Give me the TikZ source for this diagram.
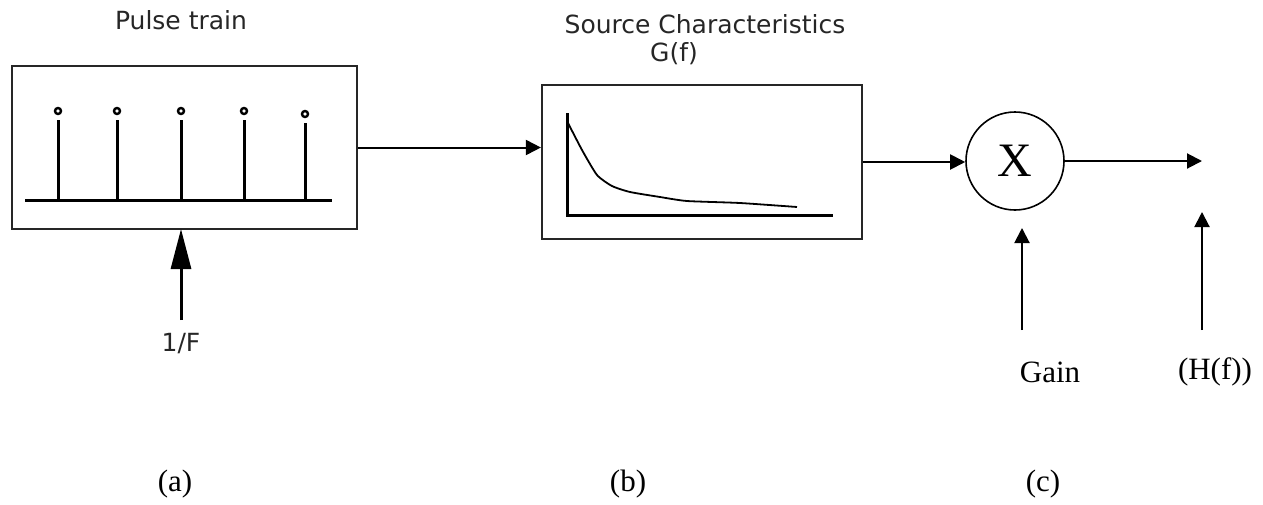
\documentclass[tikz,border=0pt]{standalone}
\usepackage{fontspec}
\setmainfont{Liberation Serif}
\newfontfamily\sansf{DejaVu Sans}
\usetikzlibrary{arrows.meta}
\tikzset{
  blk/.style={draw=black!85, line width=2.2pt, inner sep=0pt},
  conn/.style={line width=2pt, -{Triangle[length=15pt,width=15pt]}},
  bigconn/.style={line width=3pt, -{Triangle[length=40pt,width=20pt]}},
  sanslbl/.style={font=\sansf\fontsize{25}{30}\selectfont, text=black!85, inner sep=0pt},
  serlbl/.style={font=\fontsize{31}{36}\selectfont, inner sep=0pt},
  axis/.style={line width=3pt},
  stem/.style={line width=3pt},
  tipc/.style={draw, line width=2.4pt, fill=white},
}
\begin{document}
\begin{tikzpicture}[x=1pt,y=-1pt]
\useasboundingbox (0,0) rectangle (1263,504);
% blocks
\node[blk, minimum width=345pt, minimum height=163pt] (pulse) at (184.5,147.5) {};
\node[blk, minimum width=320pt, minimum height=154pt] (src) at (702,162) {};
\node[draw, line width=1.6pt, circle, minimum size=98pt, inner sep=0pt,
      font=\fontsize{48}{52}\selectfont] (mult) at (1015,161) {X};
% labels
\node[sanslbl] (ptl) at (181,20) {Pulse train};
\node[sanslbl] (scl) at (705,24) {Source Characteristics};
\node[sanslbl] (gfl) at (674,54) {G(f)};
\node[sanslbl] (fl) at (181,344) {1/F};
\node[serlbl] (gain) at (1050,372) {Gain};
\node[serlbl] (hfl) at (1215,372) {(H(f))};
\node[serlbl] (la) at (175,484) {(a)};
\node[serlbl] (lb) at (628,484) {(b)};
\node[serlbl] (lc) at (1043,484) {(c)};
% pulse train inside block 1
\draw[stem] (25,200) -- (332,200);
\foreach \x/\t/\c in {58/120/111,117/120/111,181/120/111,244/120/111,305/123/114}{
  \draw[stem] (\x,200) -- (\x,\t);
  \draw[tipc] (\x,\c) circle (3pt);
}
% characteristic curve inside block 2
\draw[axis] (567,113) -- (567,215) -- (833,215);
\draw[line width=1.8pt, line join=round] plot[smooth, tension=0.35] coordinates
  {(567,121) (582,150) (597,175) (612,186) (630,192) (660,197) (687,201) (740,203) (797,207)};
% connectors
\coordinate (fbot) at (181,320);
\coordinate (ftip) at (181,229);
\coordinate (outtip) at (1202,161);
\coordinate (gbot) at (1022,330);
\coordinate (gtip) at (1022,228);
\coordinate (hbot) at (1202,330);
\coordinate (htip) at (1202,212);
\draw[conn] (pulse.east) -- (pulse.east -| src.west);
\draw[conn] (src.east) -- (src.east -| mult.west);
\draw[conn] (mult.east) -- (outtip);
\draw[bigconn] (fbot) -- (ftip);
\draw[conn] (gbot) -- (gtip);
\draw[conn] (hbot) -- (htip);
\end{tikzpicture}
\end{document}
